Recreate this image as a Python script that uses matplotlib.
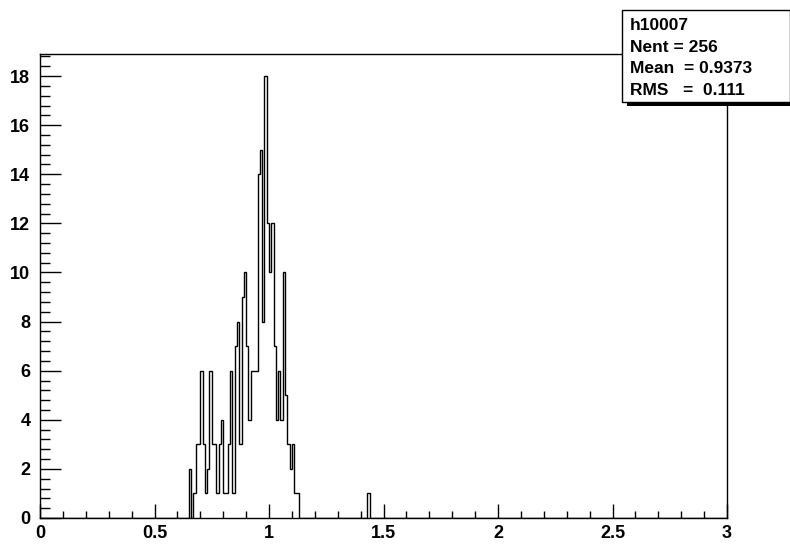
import matplotlib
matplotlib.use("Agg")
import matplotlib.pyplot as plt
import numpy as np
from matplotlib.patches import Rectangle
from matplotlib.ticker import MultipleLocator

# histogram h10007: 300 bins from 0 to 3
n_bins = 300
x_min = 0.0
x_max = 3.0

# contents of bins starting at 0.65 (width 0.01)
core_start = 0.65
core_counts = [2, 0, 1, 3, 3, 6, 3, 1, 2, 6,
               3, 3, 1, 3, 4, 1, 1, 3, 6, 1,
               7, 8, 3, 9, 10, 7, 4, 6, 6, 6,
               14, 15, 8, 18, 12, 10, 12, 7, 4, 6,
               4, 10, 5, 3, 2, 3, 1, 1]
# isolated entry
extra_x = [1.435]
extra_counts = [1]

stats_lines = ["h10007", "Nent = 256", "Mean  = 0.9373", "RMS   =  0.111"]

x_ticks = [0, 0.5, 1, 1.5, 2, 2.5, 3]
x_labels = ["0", "0.5", "1", "1.5", "2", "2.5", "3"]
y_ticks = [0, 2, 4, 6, 8, 10, 12, 14, 16, 18]

edges = np.linspace(x_min, x_max, n_bins + 1)
width = (x_max - x_min) / n_bins
counts = np.zeros(n_bins)
i0 = int(round((core_start - x_min) / width))
counts[i0:i0 + len(core_counts)] = core_counts
for xv, c in zip(extra_x, extra_counts):
    counts[int((xv - x_min) / width)] += c

plt.rcParams['font.family'] = ['Liberation Sans', 'DejaVu Sans']
plt.rcParams['font.weight'] = 'bold'

W, H = 790, 549
fig = plt.figure(figsize=(7.9, 5.49), dpi=100)
fig.patch.set_facecolor('white')
ax = fig.add_axes([40 / W, 1 - 518 / H, 687 / W, 464 / H])

ax.stairs(counts, edges, color='black', linewidth=1.0)

ax.set_xlim(x_min, x_max)
ax.set_ylim(0, 1.05 * max(counts))

ax.set_xticks(x_ticks)
ax.set_xticklabels(x_labels)
ax.set_yticks(y_ticks)
ax.xaxis.set_minor_locator(MultipleLocator(0.1))
ax.yaxis.set_minor_locator(MultipleLocator(0.4))
ax.tick_params(axis='both', which='both', direction='in', top=False, right=False,
               width=1, labelsize=13)
ax.tick_params(axis='x', which='major', length=10, pad=5)
ax.tick_params(axis='x', which='minor', length=5)
ax.tick_params(axis='y', which='major', length=15, pad=7)
ax.tick_params(axis='y', which='minor', length=7.5)
for lab in ax.get_xticklabels() + ax.get_yticklabels():
    lab.set_fontweight('bold')
for s in ax.spines.values():
    s.set_linewidth(1)

# stats box with shadow
fig.patches.append(Rectangle((627 / W, 1 - 106 / H), (W - 627) / W, 4 / H,
                             transform=fig.transFigure, facecolor='black',
                             edgecolor='none', zorder=5))
fig.patches.append(Rectangle((622 / W, 1 - 102 / H), (W - 622) / W, 92.5 / H,
                             transform=fig.transFigure, facecolor='white',
                             edgecolor='black', linewidth=1, zorder=6))
for k, line in enumerate(stats_lines):
    fig.text(630 / W, 1 - (25.5 + 21.6 * k) / H, line, fontsize=12.5,
             fontweight='bold', ha='left', va='center', zorder=7)

fig.savefig("out.png", dpi=100)
